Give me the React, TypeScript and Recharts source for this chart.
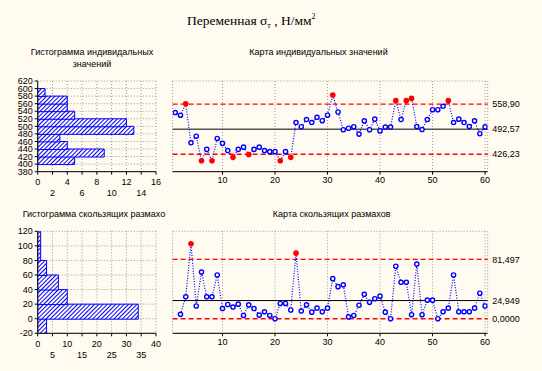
import React from 'react';
import {
  BarChart,
  Bar,
  LineChart,
  Line,
  XAxis,
  YAxis,
  CartesianGrid,
  ReferenceLine,
} from 'recharts';

// ---------- data ----------
const sampleNo = [
  1, 2, 3, 4, 5, 6, 7, 8, 9, 10, 11, 12, 13, 14, 15, 16, 17, 18, 19, 20,
  21, 22, 23, 24, 25, 26, 27, 28, 29, 30, 31, 32, 33, 34, 35, 36, 37, 38, 39, 40,
  41, 42, 43, 44, 45, 46, 47, 48, 49, 50, 51, 52, 53, 54, 55, 56, 57, 58, 59, 60,
];
const individualValues = [
  536.5, 529.5, 559.5, 456.5, 474, 409, 439, 409, 468, 455,
  436, 418, 439, 445, 425.5, 439, 445, 436, 433, 433,
  409, 433, 418, 510, 499, 518, 510, 524, 515, 529.5,
  583, 538, 491, 495, 499, 479.5, 514.5, 491, 519, 488,
  498, 498, 568, 518, 568, 574, 499.5, 491.5, 518, 544,
  544, 553, 568, 510, 519, 510, 499.5, 514.5, 480.5, 498.5,
];
const mrSampleNo = [
  2, 3, 4, 5, 6, 7, 8, 9, 10, 11, 12, 13, 14, 15, 16, 17, 18, 19, 20,
  21, 22, 23, 24, 25, 26, 27, 28, 29, 30, 31, 32, 33, 34, 35, 36, 37, 38, 39, 40,
  41, 42, 43, 44, 45, 46, 47, 48, 49, 50, 51, 52, 53, 54, 55, 56, 57, 58, 59, 60,
];
const movingRanges = [
  6, 30, 103, 17.5, 64, 30, 30, 60, 14, 19.5,
  16, 20, 4.5, 19, 14, 5, 9.5, 4.5, 0, 21,
  21, 12, 90, 10.5, 19, 9, 14.5, 9.5, 14.5, 55,
  44, 46.5, 2.5, 4.5, 18.5, 33.5, 22.5, 27.5, 31, 9,
  0, 72, 50, 50, 5.5, 75, 5.5, 25.5, 25.5, 0,
  9.5, 14.5, 60, 9.5, 9.5, 9.5, 14.5, 35, 17.5,
];
const indivBinMid = [410, 430, 450, 470, 490, 510, 530, 550, 570, 590];
const indivBinCount = [5, 9, 4, 3, 13, 12, 5, 4, 4, 1];
const mrBinMid = [-10, 10, 30, 50, 70, 90, 110];
const mrBinCount = [3, 34, 10, 7, 3, 1, 1];

const indivLimits = [426.23, 492.57, 558.9];
const indivLimitLabels = ['426,23', '492,57', '558,90'];
const mrLimits = [0, 24.949, 81.497];
const mrLimitLabels = ['0,0000', '24,949', '81,497'];

const indivValueTicks = [380, 400, 420, 440, 460, 480, 500, 520, 540, 560, 580, 600, 620];
const mrValueTicks = [-20, 0, 20, 40, 60, 80, 100, 120];
const indivCountTicks = [0, 2, 4, 6, 8, 10, 12, 14, 16];
const mrCountTicks = [0, 5, 10, 15, 20, 25, 30, 35, 40];
const sampleTicks = [10, 20, 30, 40, 50, 60];

// ---------- styles ----------
const BG = '#FFFBF0';
const BLUE = '#0000FF';
const RED = '#FF0000';
const GRID = '#9a9a9a';
const SANS = '"Liberation Sans", Arial, sans-serif';
const SERIF = '"Liberation Serif", "Times New Roman", serif';
const FS = 9;

const TwoRowTick = (props: any) => {
  const { x, y, payload, index } = props;
  return (
    <text
      x={x}
      y={y + (index % 2 ? 11 : 0)}
      dy="0.71em"
      textAnchor="middle"
      fontSize={FS}
      fontFamily={SANS}
      fill="#000"
    >
      {payload.value}
    </text>
  );
};

type HistProps = {
  left: number;
  top: number;
  width: number;
  height: number;
  mids: number[];
  counts: number[];
  valueTicks: number[];
  countTicks: number[];
  margin: { top: number; right: number; left: number; bottom: number };
};

function Histogram({ left, top, width, height, mids, counts, valueTicks, countTicks, margin }: HistProps) {
  const data = mids.map((m, i) => ({ mid: m, count: counts[i] }));
  const vDom = [valueTicks[0], valueTicks[valueTicks.length - 1]];
  const cDom = [countTicks[0], countTicks[countTicks.length - 1]];
  return (
    <div style={{ position: 'absolute', left, top }}>
      <BarChart
        width={width}
        height={height}
        layout="vertical"
        data={data}
        barCategoryGap={0}
        barGap={0}
        margin={margin}
      >
        <CartesianGrid xAxisId="b" yAxisId="l" stroke={GRID} strokeDasharray="1 2" />
        <XAxis
          xAxisId="b"
          type="number"
          domain={cDom}
          ticks={countTicks}
          interval={0}
          height={24}
          tickSize={3}
          tickMargin={4}
          tick={<TwoRowTick />}
          axisLine={{ stroke: '#000' }}
          tickLine={{ stroke: '#000' }}
          allowDataOverflow
        />
        <XAxis
          xAxisId="t"
          orientation="top"
          type="number"
          domain={cDom}
          height={0}
          tick={false}
          tickLine={false}
          axisLine={{ stroke: '#000' }}
        />
        <YAxis
          yAxisId="l"
          type="number"
          dataKey="mid"
          domain={vDom}
          ticks={valueTicks}
          interval={0}
          reversed
          width={30}
          tickSize={3}
          tickMargin={2}
          tick={{ fontSize: FS, fill: '#000', fontFamily: SANS }}
          axisLine={{ stroke: '#000' }}
          tickLine={{ stroke: '#000' }}
          allowDataOverflow
        />
        <YAxis
          yAxisId="r"
          orientation="right"
          mirror
          type="number"
          domain={vDom}
          ticks={valueTicks}
          interval={0}
          reversed
          width={0}
          tickSize={3}
          tick={false}
          axisLine={{ stroke: '#000' }}
          tickLine={{ stroke: '#000' }}
        />
        <Bar
          xAxisId="b"
          yAxisId="l"
          dataKey="count"
          fill="url(#hatch)"
          stroke={BLUE}
          strokeWidth={1}
          isAnimationActive={false}
        />
      </BarChart>
    </div>
  );
}

type CCProps = {
  left: number;
  top: number;
  width: number;
  height: number;
  xs: number[];
  ys: number[];
  valueTicks: number[];
  limits: number[];
  limitLabels: string[];
  margin: { top: number; right: number; left: number; bottom: number };
};

function ControlChart({ left, top, width, height, xs, ys, valueTicks, limits, limitLabels, margin }: CCProps) {
  const data = xs.map((x, i) => ({ n: x, v: ys[i] }));
  const [lcl, cl, ucl] = limits;
  const vDom = [valueTicks[0], valueTicks[valueTicks.length - 1]];
  const xDom = [0.5, 60.5];
  const renderDot = (p: any) => {
    const v = p.payload.v;
    const out = v > ucl || v < lcl;
    if (out) {
      return <circle key={`d${p.index}`} cx={p.cx} cy={p.cy} r={2.8} fill={RED} stroke="none" />;
    }
    return (
      <circle key={`d${p.index}`} cx={p.cx} cy={p.cy} r={2.1} fill={BG} stroke={BLUE} strokeWidth={1.4} />
    );
  };
  const lbl = (i: number) => ({
    value: limitLabels[i],
    position: 'right' as const,
    offset: 4.5,
    fill: '#000',
    fontSize: FS,
    fontFamily: SANS,
  });
  return (
    <div style={{ position: 'absolute', left, top }}>
      <LineChart width={width} height={height} data={data} margin={margin}>
        <CartesianGrid xAxisId="b" yAxisId="l" stroke={GRID} strokeDasharray="1 2" />
        <XAxis
          xAxisId="b"
          type="number"
          dataKey="n"
          domain={xDom}
          ticks={sampleTicks}
          interval={0}
          height={24}
          tickSize={3}
          tickMargin={2}
          tick={{ fontSize: FS, fill: '#000', fontFamily: SANS }}
          axisLine={{ stroke: '#000' }}
          tickLine={{ stroke: '#000' }}
          allowDataOverflow
        />
        <XAxis
          xAxisId="t"
          orientation="top"
          type="number"
          domain={xDom}
          height={0}
          tick={false}
          tickLine={false}
          axisLine={{ stroke: '#000' }}
        />
        <YAxis
          yAxisId="l"
          mirror
          type="number"
          domain={vDom}
          ticks={valueTicks}
          interval={0}
          width={0}
          tickSize={3}
          tick={false}
          axisLine={{ stroke: '#000' }}
          tickLine={{ stroke: '#000' }}
          allowDataOverflow
        />
        <YAxis
          yAxisId="m"
          orientation="right"
          mirror
          type="number"
          domain={vDom}
          ticks={valueTicks}
          interval={0}
          width={0}
          tickSize={3}
          tick={false}
          axisLine={{ stroke: '#000' }}
          tickLine={{ stroke: '#000' }}
        />
        <ReferenceLine xAxisId="b" yAxisId="l" y={ucl} stroke={RED} strokeDasharray="5 3" strokeWidth={1.4} label={lbl(2)} />
        <ReferenceLine xAxisId="b" yAxisId="l" y={lcl} stroke={RED} strokeDasharray="5 3" strokeWidth={1.4} label={lbl(0)} />
        <ReferenceLine xAxisId="b" yAxisId="l" y={cl} stroke="#000" strokeWidth={1} label={lbl(1)} />
        <Line
          xAxisId="b"
          yAxisId="l"
          type="linear"
          dataKey="v"
          stroke={BLUE}
          strokeWidth={1.2}
          strokeDasharray="1 1.6"
          dot={renderDot}
          activeDot={false}
          isAnimationActive={false}
        />
      </LineChart>
    </div>
  );
}

export default function App() {
  return (
    <div
      style={{
        position: 'fixed',
        left: 0,
        top: 0,
        width: 542,
        height: 371,
        background: BG,
        overflow: 'hidden',
      }}
    >
      <svg width={0} height={0} style={{ position: 'absolute' }}>
        <defs>
          <pattern
            id="hatch"
            patternUnits="userSpaceOnUse"
            width={3}
            height={3}
            patternTransform="rotate(45)"
          >
            <rect x={0} y={0} width={3} height={3} fill={BG} />
            <line x1={0.5} y1={0} x2={0.5} y2={3} stroke={BLUE} strokeWidth={1} />
          </pattern>
        </defs>
      </svg>

      <Histogram
        left={0}
        top={70}
        width={170}
        height={135}
        mids={indivBinMid}
        counts={indivBinCount}
        valueTicks={indivValueTicks}
        countTicks={indivCountTicks}
        margin={{ top: 11, right: 14, left: 7.7, bottom: 9.3 }}
      />
      <ControlChart
        left={160}
        top={70}
        width={382}
        height={135}
        xs={sampleNo}
        ys={individualValues}
        valueTicks={indivValueTicks}
        limits={indivLimits}
        limitLabels={indivLimitLabels}
        margin={{ top: 11, right: 54.3, left: 12.6, bottom: 9.3 }}
      />
      <Histogram
        left={0}
        top={220}
        width={170}
        height={140}
        mids={mrBinMid}
        counts={mrBinCount}
        valueTicks={mrValueTicks}
        countTicks={mrCountTicks}
        margin={{ top: 11.3, right: 14, left: 7.7, bottom: 2.7 }}
      />
      <ControlChart
        left={160}
        top={220}
        width={382}
        height={140}
        xs={mrSampleNo}
        ys={movingRanges}
        valueTicks={mrValueTicks}
        limits={mrLimits}
        limitLabels={mrLimitLabels}
        margin={{ top: 11.3, right: 54.3, left: 12.6, bottom: 2.7 }}
      />

      <svg
        width={542}
        height={371}
        style={{ position: 'absolute', left: 0, top: 0, pointerEvents: 'none' }}
      >
        <text x={187} y={24.5} fontFamily={SERIF} fontSize={13.5} fill="#000">
          Переменная σ
          <tspan fontSize={8} dy={3}>т</tspan>
          <tspan dy={-3}> , Н/мм</tspan>
          <tspan fontSize={8} dy={-6}>2</tspan>
        </text>
        <text x={92} y={55} textAnchor="middle" fontFamily={SANS} fontSize={FS} fill="#000">
          Гистограмма индивидальных
        </text>
        <text x={92} y={67} textAnchor="middle" fontFamily={SANS} fontSize={FS} fill="#000">
          значений
        </text>
        <text x={318.5} y={55} textAnchor="middle" fontFamily={SANS} fontSize={FS} fill="#000">
          Карта индивидуальных значений
        </text>
        <text x={22.7} y={216.5} fontFamily={SANS} fontSize={FS} fill="#000">
          Гистограмма скользящих размахо
        </text>
        <text x={331.7} y={216.5} textAnchor="middle" fontFamily={SANS} fontSize={FS} fill="#000">
          Карта скользящих размахов
        </text>
      </svg>
    </div>
  );
}
